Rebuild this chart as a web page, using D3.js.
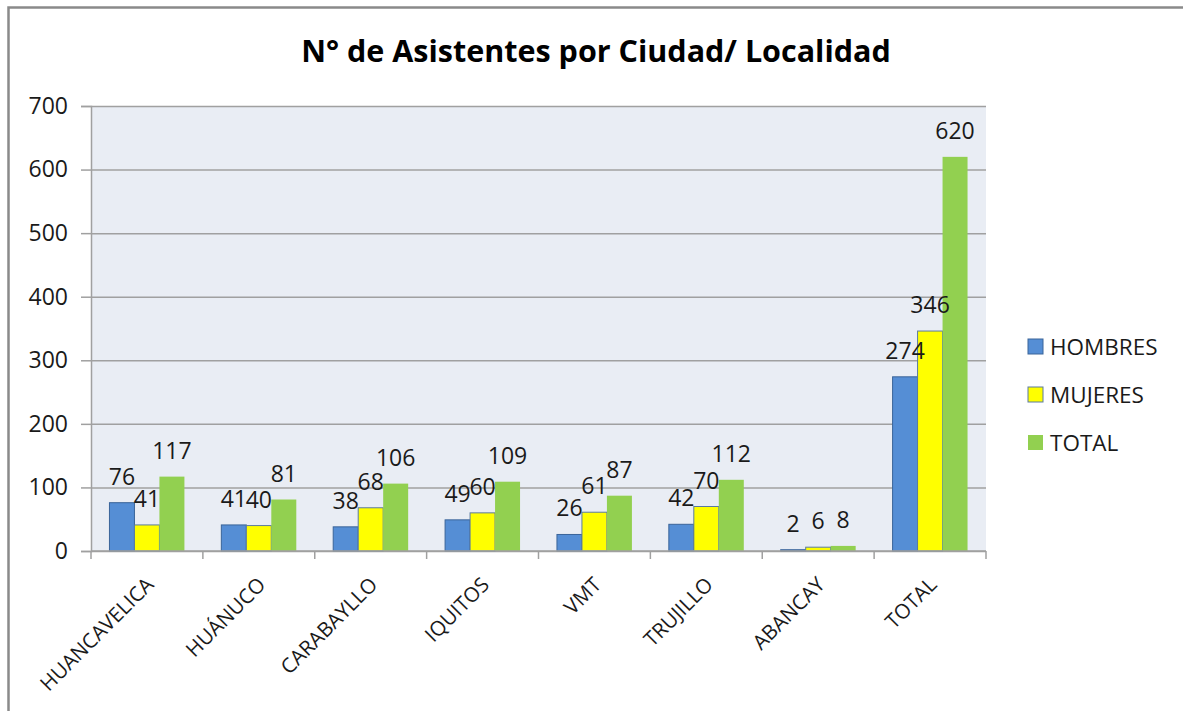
<!DOCTYPE html>
<html>
<head>
<meta charset="utf-8">
<script src="https://cdn.jsdelivr.net/npm/d3@7"></script>
<style>
  body { margin: 0; background: #fff; }
  svg { display: block; font-family: 'Open Sans', sans-serif; }
</style>
</head>
<body>
<div id="app"></div>
<script>
const categories = ['HUANCAVELICA', 'HUÁNUCO', 'CARABAYLLO', 'IQUITOS', 'VMT', 'TRUJILLO', 'ABANCAY', 'TOTAL']
const seriesNames = ['HOMBRES', 'MUJERES', 'TOTAL']
const hombres = [76, 41, 38, 49, 26, 42, 2, 274]
const mujeres = [41, 40, 68, 60, 61, 70, 6, 346]
const total = [117, 81, 106, 109, 87, 112, 8, 620]
const yTicks = [0, 100, 200, 300, 400, 500, 600, 700]

const series = [hombres, mujeres, total]
const fills = ['#558ed5', '#ffff00', '#92d050']
const strokes = ['#3a6499', '#5a7aa0', 'none']

const W = 1183
const H = 711
const plot = { left: 91, right: 986, top: 106, bottom: 551 }

const svg = d3.select('#app')
  .append('svg')
  .attr('width', W)
  .attr('height', H)

// outer chart frame (right / bottom edges fall outside the picture)
svg.append('rect')
  .attr('x', 8.5)
  .attr('y', 7.5)
  .attr('width', 1300)
  .attr('height', 800)
  .attr('fill', 'none')
  .attr('stroke', '#8a8a8a')
  .attr('stroke-width', 2.5)

svg.append('text')
  .attr('x', 596)
  .attr('y', 62)
  .attr('text-anchor', 'middle')
  .attr('font-size', 30.5)
  .attr('font-weight', 'bold')
  .attr('fill', '#000')
  .text('N° de Asistentes por Ciudad/ Localidad')

const x0 = d3.scaleBand()
  .domain(categories)
  .range([plot.left, plot.right])
  .paddingInner(0.33)
  .paddingOuter(0.165)

const x1 = d3.scaleBand()
  .domain(d3.range(series.length))
  .range([0, x0.bandwidth()])

const y = d3.scaleLinear()
  .domain([0, 700])
  .range([plot.bottom, plot.top])

svg.append('rect')
  .attr('x', plot.left)
  .attr('y', plot.top)
  .attr('width', plot.right - plot.left)
  .attr('height', plot.bottom - plot.top)
  .attr('fill', '#e9edf4')

// gridlines + y axis
const yAxis = svg.append('g')
  .attr('transform', `translate(${plot.left},0)`)
  .call(d3.axisLeft(y).tickValues(yTicks).tickSize(10).tickPadding(13))

yAxis.select('.domain').attr('stroke', '#a0a0a0').attr('stroke-width', 1.5)
yAxis.selectAll('.tick line').attr('stroke', '#a0a0a0').attr('stroke-width', 1.5)
yAxis.selectAll('.tick text')
  .attr('font-size', 23)
  .attr('fill', '#1a1a1a')
  .attr('font-family', "'Open Sans', sans-serif")

yAxis.selectAll('.tick')
  .append('line')
  .attr('x1', 0)
  .attr('x2', plot.right - plot.left)
  .attr('stroke', '#a0a0a0')
  .attr('stroke-width', 1.5)

// bars
const groups = svg.append('g')
  .selectAll('g')
  .data(categories)
  .join('g')
  .attr('transform', (d) => `translate(${x0(d)},0)`)

groups.selectAll('rect')
  .data((d, i) => series.map((s, k) => ({ k, v: s[i] })))
  .join('rect')
  .attr('x', (d) => x1(d.k))
  .attr('y', (d) => y(d.v))
  .attr('width', x1.bandwidth())
  .attr('height', (d) => y(0) - y(d.v))
  .attr('fill', (d) => fills[d.k])
  .attr('stroke', (d) => strokes[d.k])
  .attr('stroke-width', 1)

groups.selectAll('text')
  .data((d, i) => series.map((s, k) => ({ k, v: s[i] })))
  .join('text')
  .attr('x', (d) => x1(d.k) + x1.bandwidth() / 2)
  .attr('y', (d) => y(d.v) - 18)
  .attr('text-anchor', 'middle')
  .attr('font-size', 23)
  .attr('fill', '#1a1a1a')
  .text((d) => d.v)

// x axis, ticks at category boundaries
const xBounds = d3.range(categories.length + 1).map((i) => plot.left + i * x0.step())
const xAxis = svg.append('g')
xAxis.append('line')
  .attr('x1', plot.left)
  .attr('x2', plot.right)
  .attr('y1', plot.bottom)
  .attr('y2', plot.bottom)
  .attr('stroke', '#a0a0a0')
  .attr('stroke-width', 1.5)
xAxis.selectAll('line.tk')
  .data(xBounds)
  .join('line')
  .attr('class', 'tk')
  .attr('x1', (d) => d)
  .attr('x2', (d) => d)
  .attr('y1', plot.bottom)
  .attr('y2', plot.bottom + 8)
  .attr('stroke', '#a0a0a0')
  .attr('stroke-width', 1.5)

xAxis.selectAll('text')
  .data(categories)
  .join('text')
  .attr('transform', (d) => `translate(${x0(d) + x0.bandwidth() / 2 + 8},${plot.bottom + 35}) rotate(-45)`)
  .attr('text-anchor', 'end')
  .attr('font-size', 20.5)
  .attr('fill', '#1a1a1a')
  .text((d) => d)

// legend
const legend = svg.append('g')
  .selectAll('g')
  .data(seriesNames)
  .join('g')
  .attr('transform', (d, i) => `translate(1028,${347 + i * 48})`)

legend.append('rect')
  .attr('x', 0)
  .attr('y', -8)
  .attr('width', 15)
  .attr('height', 15)
  .attr('fill', (d, i) => fills[i])
  .attr('stroke', (d, i) => strokes[i])

legend.append('text')
  .attr('x', 22)
  .attr('y', 8)
  .attr('font-size', 22.5)
  .attr('fill', '#1a1a1a')
  .text((d) => d)
</script>
</body>
</html>
